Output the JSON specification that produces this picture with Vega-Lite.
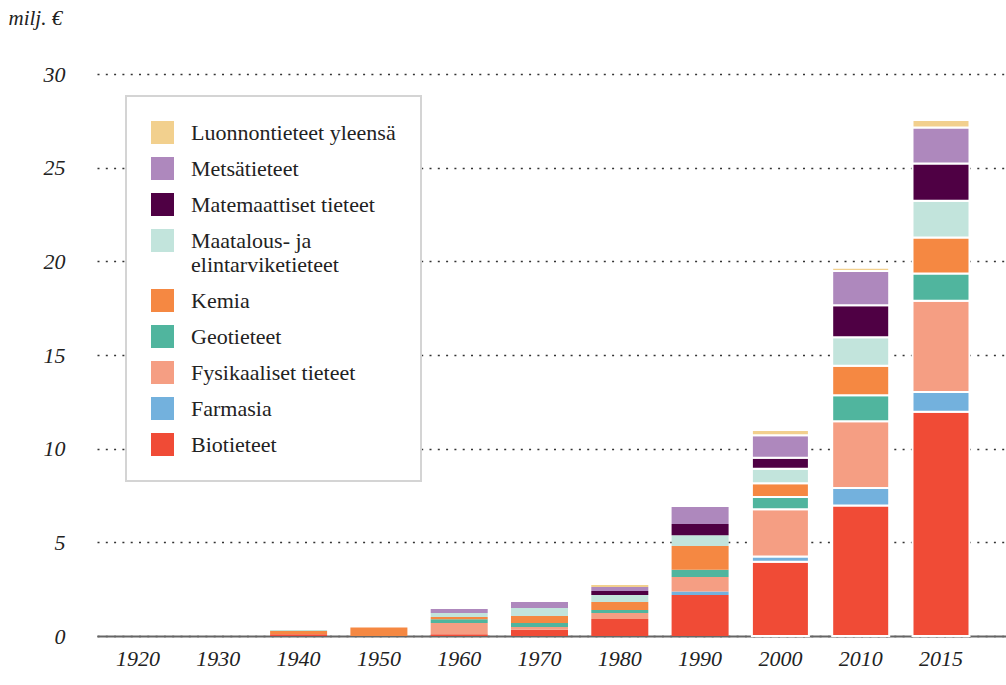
{
  "$schema": "https://vega.github.io/schema/vega-lite/v6.json",
  "width": 909,
  "height": 562,
  "autosize": {"type": "none"},
  "padding": {"left": 97, "top": 74, "right": 0, "bottom": 49},
  "background": "white",
  "config": {"view": {"stroke": null}, "legend": {"strokeWidth": 2}, "font": "Liberation Serif"},
  "data": {"values": [
    {"year": "1940", "cat": "Biotieteet", "n": 1, "v": 0.1},
    {"year": "1940", "cat": "Kemia", "n": 5, "v": 0.17},
    {"year": "1940", "cat": "Maatalous- ja elintarviketieteet", "n": 6, "v": 0.05},
    {"year": "1950", "cat": "Kemia", "n": 5, "v": 0.45},
    {"year": "1960", "cat": "Biotieteet", "n": 1, "v": 0.1},
    {"year": "1960", "cat": "Fysikaaliset tieteet", "n": 3, "v": 0.59},
    {"year": "1960", "cat": "Geotieteet", "n": 4, "v": 0.2},
    {"year": "1960", "cat": "Kemia", "n": 5, "v": 0.12},
    {"year": "1960", "cat": "Maatalous- ja elintarviketieteet", "n": 6, "v": 0.22},
    {"year": "1960", "cat": "Metsätieteet", "n": 8, "v": 0.21},
    {"year": "1970", "cat": "Biotieteet", "n": 1, "v": 0.34},
    {"year": "1970", "cat": "Fysikaaliset tieteet", "n": 3, "v": 0.14},
    {"year": "1970", "cat": "Geotieteet", "n": 4, "v": 0.21},
    {"year": "1970", "cat": "Kemia", "n": 5, "v": 0.38},
    {"year": "1970", "cat": "Maatalous- ja elintarviketieteet", "n": 6, "v": 0.43},
    {"year": "1970", "cat": "Metsätieteet", "n": 8, "v": 0.32},
    {"year": "1980", "cat": "Biotieteet", "n": 1, "v": 0.91},
    {"year": "1980", "cat": "Fysikaaliset tieteet", "n": 3, "v": 0.32},
    {"year": "1980", "cat": "Geotieteet", "n": 4, "v": 0.16},
    {"year": "1980", "cat": "Kemia", "n": 5, "v": 0.43},
    {"year": "1980", "cat": "Maatalous- ja elintarviketieteet", "n": 6, "v": 0.37},
    {"year": "1980", "cat": "Matemaattiset tieteet", "n": 7, "v": 0.21},
    {"year": "1980", "cat": "Metsätieteet", "n": 8, "v": 0.22},
    {"year": "1980", "cat": "Luonnontieteet yleensä", "n": 9, "v": 0.1},
    {"year": "1990", "cat": "Biotieteet", "n": 1, "v": 2.19},
    {"year": "1990", "cat": "Farmasia", "n": 2, "v": 0.18},
    {"year": "1990", "cat": "Fysikaaliset tieteet", "n": 3, "v": 0.78},
    {"year": "1990", "cat": "Geotieteet", "n": 4, "v": 0.39},
    {"year": "1990", "cat": "Kemia", "n": 5, "v": 1.27},
    {"year": "1990", "cat": "Maatalous- ja elintarviketieteet", "n": 6, "v": 0.57},
    {"year": "1990", "cat": "Matemaattiset tieteet", "n": 7, "v": 0.6},
    {"year": "1990", "cat": "Metsätieteet", "n": 8, "v": 0.91},
    {"year": "2000", "cat": "Biotieteet", "n": 1, "v": 3.97},
    {"year": "2000", "cat": "Farmasia", "n": 2, "v": 0.27},
    {"year": "2000", "cat": "Fysikaaliset tieteet", "n": 3, "v": 2.52},
    {"year": "2000", "cat": "Geotieteet", "n": 4, "v": 0.66},
    {"year": "2000", "cat": "Kemia", "n": 5, "v": 0.73},
    {"year": "2000", "cat": "Maatalous- ja elintarviketieteet", "n": 6, "v": 0.78},
    {"year": "2000", "cat": "Matemaattiset tieteet", "n": 7, "v": 0.59},
    {"year": "2000", "cat": "Metsätieteet", "n": 8, "v": 1.2},
    {"year": "2000", "cat": "Luonnontieteet yleensä", "n": 9, "v": 0.28},
    {"year": "2010", "cat": "Biotieteet", "n": 1, "v": 6.96},
    {"year": "2010", "cat": "Farmasia", "n": 2, "v": 0.94},
    {"year": "2010", "cat": "Fysikaaliset tieteet", "n": 3, "v": 3.56},
    {"year": "2010", "cat": "Geotieteet", "n": 4, "v": 1.39},
    {"year": "2010", "cat": "Kemia", "n": 5, "v": 1.57},
    {"year": "2010", "cat": "Maatalous- ja elintarviketieteet", "n": 6, "v": 1.53},
    {"year": "2010", "cat": "Matemaattiset tieteet", "n": 7, "v": 1.71},
    {"year": "2010", "cat": "Metsätieteet", "n": 8, "v": 1.83},
    {"year": "2010", "cat": "Luonnontieteet yleensä", "n": 9, "v": 0.17},
    {"year": "2015", "cat": "Biotieteet", "n": 1, "v": 11.97},
    {"year": "2015", "cat": "Farmasia", "n": 2, "v": 1.06},
    {"year": "2015", "cat": "Fysikaaliset tieteet", "n": 3, "v": 4.87},
    {"year": "2015", "cat": "Geotieteet", "n": 4, "v": 1.45},
    {"year": "2015", "cat": "Kemia", "n": 5, "v": 1.92},
    {"year": "2015", "cat": "Maatalous- ja elintarviketieteet", "n": 6, "v": 1.97},
    {"year": "2015", "cat": "Matemaattiset tieteet", "n": 7, "v": 1.98},
    {"year": "2015", "cat": "Metsätieteet", "n": 8, "v": 1.92},
    {"year": "2015", "cat": "Luonnontieteet yleensä", "n": 9, "v": 0.41}
  ]},
  "mark": {"type": "bar", "stroke": "white"},
  "encoding": {
    "x": {
      "field": "year", "type": "ordinal",
      "scale": {"domain": ["1920","1930","1940","1950","1960","1970","1980","1990","2000","2010","2015"], "paddingInner": 0.29, "paddingOuter": 0.305, "align": 0.255},
      "axis": {
        "title": null, "labelAngle": 0, "ticks": false, "grid": false,
        "domain": true, "domainColor": "#666", "domainWidth": 2,
        "labelFont": "Liberation Serif", "labelFontStyle": "italic", "labelFontSize": 22, "labelColor": "#222",
        "labelPadding": 12
      }
    },
    "y": {
      "field": "v", "type": "quantitative", "stack": "zero",
      "scale": {"domain": [0, 30]},
      "axis": {
        "title": "milj. €", "titleAngle": 0, "titleX": -89, "titleY": -56, "titleAlign": "left", "titleBaseline": "middle",
        "titleFont": "Liberation Serif", "titleFontStyle": "italic", "titleFontWeight": "normal", "titleFontSize": 21, "titleColor": "#222",
        "values": [0, 5, 10, 15, 20, 25, 30],
        "domain": false, "ticks": false,
        "grid": true, "gridDash": [2, 6.3], "gridColor": "#333", "gridWidth": 1.6,
        "labelFont": "Liberation Serif", "labelFontStyle": "italic", "labelFontSize": 22, "labelColor": "#222",
        "labelPadding": 32
      }
    },
    "color": {
      "field": "cat", "type": "nominal",
      "scale": {
        "domain": ["Luonnontieteet yleensä", "Metsätieteet", "Matemaattiset tieteet", "Maatalous- ja elintarviketieteet", "Kemia", "Geotieteet", "Fysikaaliset tieteet", "Farmasia", "Biotieteet"],
        "range": ["#f2d08e", "#ae88bd", "#4f0044", "#c2e4dc", "#f58842", "#50b59e", "#f59e83", "#73b1dd", "#f04b36"]
      },
      "legend": {
        "title": null, "orient": "none", "legendX": 29, "legendY": 22,
        "direction": "vertical",
        "padding": 25, "fillColor": "white", "strokeColor": "#d4d4d4",
        "symbolType": "square", "symbolSize": 529, "symbolStrokeWidth": 0, "symbolOpacity": 1,
        "labelFont": "Liberation Serif", "labelFontSize": 22, "labelColor": "#222", "labelOffset": 17,
        "labelLimit": 400, "rowPadding": 13,
        "labelExpr": "datum.label == 'Maatalous- ja elintarviketieteet' ? ['Maatalous- ja', 'elintarviketieteet'] : datum.label",
        "encode": {"labels": {"update": {"lineHeight": {"value": 27}}}}
      }
    },
    "order": {"field": "n", "type": "quantitative", "sort": "ascending"},
    "strokeWidth": {"condition": {"test": "datum.year >= 2000", "value": 2}, "value": 0}
  }
}
